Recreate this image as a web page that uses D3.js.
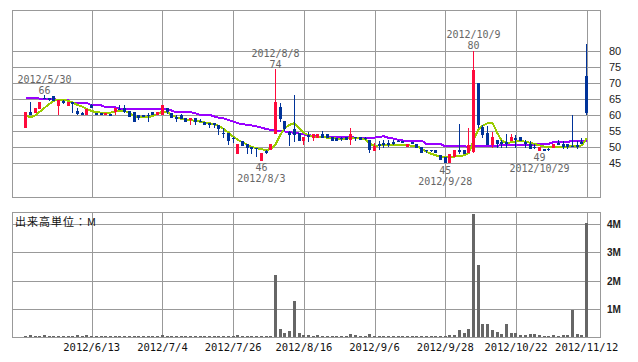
<!DOCTYPE html>
<html>
<head>
<meta charset="utf-8">
<script src="https://cdn.jsdelivr.net/npm/d3@7"></script>
<style>
  body { margin: 0; background: #fff; }
  svg { display: block; }
</style>
</head>
<body>
<div id="chart"></div>
<script>
// trading days shown on the chart
const dates = [
  "2012/5/24","2012/5/25","2012/5/28","2012/5/29","2012/5/30","2012/5/31",
  "2012/6/1","2012/6/4","2012/6/5","2012/6/6","2012/6/7","2012/6/8","2012/6/11","2012/6/12","2012/6/13",
  "2012/6/14","2012/6/15","2012/6/18","2012/6/19","2012/6/20","2012/6/21","2012/6/22","2012/6/25","2012/6/26","2012/6/27","2012/6/28","2012/6/29",
  "2012/7/2","2012/7/3","2012/7/4","2012/7/5","2012/7/6","2012/7/9","2012/7/10","2012/7/11","2012/7/12","2012/7/13",
  "2012/7/17","2012/7/18","2012/7/19","2012/7/20","2012/7/23","2012/7/24","2012/7/25","2012/7/26","2012/7/27","2012/7/30","2012/7/31",
  "2012/8/1","2012/8/2","2012/8/3","2012/8/6","2012/8/7","2012/8/8","2012/8/9","2012/8/10","2012/8/13","2012/8/14","2012/8/15","2012/8/16",
  "2012/8/17","2012/8/20","2012/8/21","2012/8/22","2012/8/23","2012/8/24","2012/8/27","2012/8/28","2012/8/29","2012/8/30","2012/8/31",
  "2012/9/3","2012/9/4","2012/9/5","2012/9/6","2012/9/7","2012/9/10","2012/9/11","2012/9/12","2012/9/13","2012/9/14",
  "2012/9/18","2012/9/19","2012/9/20","2012/9/21","2012/9/24","2012/9/25","2012/9/26","2012/9/27","2012/9/28",
  "2012/10/1","2012/10/2","2012/10/3","2012/10/4","2012/10/5","2012/10/9","2012/10/10","2012/10/11","2012/10/12",
  "2012/10/15","2012/10/16","2012/10/17","2012/10/18","2012/10/19","2012/10/22","2012/10/23","2012/10/24","2012/10/25","2012/10/26",
  "2012/10/29","2012/10/30","2012/10/31","2012/11/1","2012/11/2","2012/11/5","2012/11/6","2012/11/7","2012/11/8","2012/11/9","2012/11/12"
];

const open = [
  55.9,61.1,60.6,62,65.4,65.2, 66,62.9,64.5,63,64,61.2,60.6,60,63.3,
  60.8,60.8,60,60.3,61,62,62.3,61.3,61,60,60,60.2,
  61,60,60.1,62.2,60.8,59.4,60,59,58.5,59,
  58.3,58,57.5,57.5,57,54.5,54.4,53,48,52.1,51,
  50,49.9,45.8,48.8,49,54,62.4,58.2,54.8,55.8,54.3,52,
  53.8,52.8,52.8,54,54,53.2,53,53,53.2,52.4,53.2,
  53.2,53,52.2,48.8,51,51.2,51.2,51.5,52,51.9,
  50,51.5,51,50.2,49.2,49.2,49.2,47.6,47.1,
  45,47.1,49.2,49.2,48.1,48.6,70,56.3,54.4,
  50.8,52.2,51.5,51.5,51.8,52.8,53.2,51.5,50.9,50.2,
  48.9,49.6,49.5,49.9,51.2,50.9,50.9,50.5,50.6,51.5,72.2
];
const high = [
  61.1,64.1,62.2,64.1,66.4,65.5, 66,64.7,64.8,64,64.2,62.3,61,62,63.4,
  60.8,60.8,60.8,60.5,62.2,63.3,63.2,61.3,61,60.1,60.2,60.8,
  61,61,63.2,62.2,60.8,60,60.5,59,59.2,59,
  58.7,58,57.7,57.7,57,55.9,54.4,53.2,51,52.1,51,
  50.2,49.9,48.2,49.3,51,74.3,63.7,58.2,55,66.3,54.3,53.2,
  54.8,54,54,55,54.2,53.2,53,53.2,53.2,56,53.2,
  53.2,53.2,52.2,51.2,51.8,52.3,52.3,52.3,52.2,52,
  50.9,51.6,51,50.2,49.2,49.2,49.2,47.6,47.1,
  47.9,49.2,57.3,49.2,56.1,80,70,57,56.5,
  54.8,52.2,52.2,54.1,54,53.8,53.2,52.2,52.1,50.9,
  50.1,49.6,49.9,50.9,52.2,52,50.9,59.9,52,53,82.3
];
const low = [
  55.9,60.1,60.6,62,64.9,64.4, 64.4,59.9,63.5,63,60.6,60,60,60,62.1,
  60,60,60,60,60,61.5,60.8,59.4,57.9,58.5,59.5,58,
  60,60,60.1,60.5,59,58,58.7,58,57,57,
  57.8,57,55.9,55.9,53.8,52.8,50.7,51.2,48,50.4,48,
  48,47,45.8,48,49,54,58,55,50.3,51.7,52,50.8,
  51.7,52,52.8,53,53,52,52,52,52.4,50.8,52,
  52.4,52.3,48.1,48.8,49,49.8,50,50.8,51.8,51.5,
  50,51.2,49.7,48.1,48.1,48.5,48.1,46.1,45,
  45,47.1,47.9,47.9,48.1,48.3,56,53,50.7,
  49.8,49.8,49.9,49.9,51.8,49.8,52,49.9,49.6,49.6,
  48.8,48.8,48.8,49.9,50.6,49.6,49.6,50,49.6,51,60
];
const close = [
  61.1,60.1,62.2,64.1,65.1,64.7, 64.4,64.7,63.9,64,63.5,60.3,60.1,62,62.1,
  60,60,60.8,60.2,62.2,61.7,61,59.4,58,59.2,59.7,59.8,
  60,61,63.2,61,59,59,58.7,58,59,58,
  58,57,57.2,57.2,55.6,54.3,52.1,52.8,51,50.4,49.8,
  49.5,49.5,48.2,48.5,51,64.2,58.8,55.8,53.8,53.8,52,53.2,
  53.4,54,54,53,53,52,52,52.5,52.4,54,52.8,
  52.4,52.5,49.1,50.4,50.7,50.8,50.8,51,51.9,51.6,
  50.9,51.3,49.7,48.1,49,48.8,48.1,46.1,45.2,
  47.9,49.2,48.4,48,50.7,74.1,57,53.8,50.7,
  53.2,51.1,51.2,51,53.2,52.3,52,51.1,49.6,49.9,
  50.1,48.8,49.3,50.9,50.8,50,50,50.1,50.2,51.2,60.7
];
// 5 day and 25 day moving averages as drawn
const ma5 = [
  60.1,59.3,59.9,61.1,62.3,63.5, 64.5,64.8,64.8,64.5,63.9,63.2,62.7,61.9,61.3,
  60.9,60.8,60.8,60.8,61.1,61.3,61.3,60.6,59.8,59.3,59.3,59.3,
  59.8,60.4,61.1,60.9,60.1,59.3,58.8,58.5,58.5,58.2,
  58,57.7,57.5,57.2,56.7,55.7,54.6,53.3,52.3,51.6,50.7,
  50.1,49.7,49.4,49.1,49.5,50.9,53.8,56.1,57,57.5,55.9,54.4,
  53.8,53.4,53.2,53.2,53,52.8,52.7,52.7,52.7,52.8,52.8,
  52.7,52.4,51.1,50.4,50.6,50.6,50.6,50.6,50.6,50.6,
  50.6,50.5,50.3,49.6,48.6,48,47.5,47,47,
  47,47.1,47.2,47.5,48.2,52.2,55.5,56.8,57.5,
  57.7,54.5,52,51.4,51.5,51.8,52,51.7,51.4,51,
  50.6,50.2,50,50.2,50.1,50.1,50.2,50.4,50.2,50.6,52.8
];
const ma25 = [
  65.5,65.5,65.5,65.1,65.1,65.1, 65.1,64.6,64.6,64.6,63.8,63.8,63.8,63.8,63.1,
  63.1,63.1,62.4,62.4,62.4,62,62,62,62,62,62,62,
  62,62,62,62,61.4,60.9,60.9,60.9,60.9,60.6,
  60.1,60.1,60.1,59.6,59.2,59,58.5,58,57.5,57.2,57,
  56.8,56.5,56.1,55.7,55.4,55.2,55.1,54.9,54.7,54.5,54.3,54,
  53.8,53.5,53.4,53.2,53.2,53.2,53.1,53.1,53.1,53.1,53,
  53,53,53,53,53.3,53.4,52.9,52.7,52.3,52.1,
  52.1,52.1,52.1,52.1,51,51,51,51,50.3,
  50.3,50.3,50.3,50.3,50.1,50.5,50.5,50.5,50.5,
  50.5,50.5,50.6,50.6,50.6,50.6,50.6,50.6,50.6,50.6,
  51.1,51.1,51.1,51.6,51.6,51.6,51.6,52.1,52.1,52.1,52.1
];
// volume in millions of shares
const volume = [
  0.06,0.08,0.05,0.05,0.08,0.05, 0.05,0.05,0.05,0.05,0.05,0.08,0.05,0.08,0.05,
  0.05,0.05,0.05,0.05,0.05,0.05,0.05,0.05,0.05,0.05,0.05,0.05,
  0.05,0.05,0.08,0.05,0.05,0.05,0.05,0.05,0.05,0.05,
  0.05,0.05,0.05,0.05,0.05,0.05,0.05,0.05,0.08,0.05,0.05,
  0.05,0.05,0.05,0.05,0.05,2.2,0.29,0.15,0.22,1.28,0.15,0.08,
  0.08,0.05,0.08,0.05,0.05,0.05,0.05,0.05,0.05,0.13,0.08,
  0.05,0.05,0.13,0.05,0.05,0.05,0.05,0.05,0.05,0.05,
  0.05,0.05,0.05,0.05,0.05,0.05,0.05,0.05,0.05,
  0.09,0.09,0.26,0.15,0.29,4.36,2.55,0.47,0.47,
  0.26,0.19,0.12,0.47,0.15,0.15,0.09,0.09,0.12,0.12,
  0.09,0.05,0.05,0.08,0.05,0.09,0.09,0.97,0.12,0.08,4.03
];

const tickDates = ["2012/6/13","2012/7/4","2012/7/26","2012/8/16","2012/9/6","2012/9/28","2012/10/22","2012/11/12"];
const priceTicks = [45, 50, 55, 60, 65, 70, 75, 80];
const volTicks = [1, 2, 3, 4];
// highs and lows that carry a date label
const peaks = [
  {date: "2012/5/30", value: 66, kind: "high"},
  {date: "2012/8/8", value: 74, kind: "high"},
  {date: "2012/10/9", value: 80, kind: "high"},
  {date: "2012/8/3", value: 46, kind: "low"},
  {date: "2012/9/28", value: 45, kind: "low"},
  {date: "2012/10/29", value: 49, kind: "low"}
];

const W = 638, H = 362;
const left = 12.5, right = 600.5;
const pTop = 10.5, pBottom = 197.5;
const vTop = 212.5, vBottom = 337.5;
const grid = "#999";
const upColor = "#ff0a3c", downColor = "#003399";

const svg = d3.select("#chart").append("svg").attr("width", W).attr("height", H);

const x = d3.scalePoint().domain(dates).range([25.7, 586.7]);
const y = d3.scaleLinear().domain([45, 80]).range([163.3, 51]);
const yv = d3.scaleLinear().domain([0, 4]).range([337.3, 224.2]);

const bars = dates.map((d, i) => ({date: d, o: open[i], h: high[i], l: low[i], c: close[i], v: volume[i]}));
const px = v => Math.round(v) + 0.5;
const bodyX = d => Math.round(x(d.date) - 1.5);

// ---- frames and grid ----
function panel(top, bottom, ticks, scale) {
  const g = svg.append("g").attr("shape-rendering", "crispEdges");
  g.selectAll("line.h").data(ticks).enter().append("line")
    .attr("x1", left).attr("x2", right)
    .attr("y1", d => px(scale(d))).attr("y2", d => px(scale(d)))
    .attr("stroke", grid);
  g.selectAll("line.v").data(tickDates).enter().append("line")
    .attr("x1", d => px(x(d))).attr("x2", d => px(x(d)))
    .attr("y1", top).attr("y2", bottom)
    .attr("stroke", grid);
  g.append("rect")
    .attr("x", left).attr("y", top)
    .attr("width", right - left).attr("height", bottom - top)
    .attr("fill", "none").attr("stroke", grid);
}
panel(pTop, pBottom, priceTicks, y);
panel(vTop, vBottom, volTicks, yv);

// ---- right axes ----
svg.append("g").selectAll("text").data(priceTicks).enter().append("text")
  .attr("x", 609).attr("y", d => y(d) + 4)
  .text(d => d)
  .style("font-family", "Liberation Sans, Arial")
  .style("font-size", "11px")
  .style("fill", "#222");

svg.append("g").selectAll("text").data(volTicks).enter().append("text")
  .attr("x", 607).attr("y", d => yv(d) + 4)
  .text(d => d + "M")
  .style("font-family", "Liberation Sans, Arial")
  .style("font-size", "10px")
  .style("font-weight", "bold")
  .style("fill", "#222");

// ---- date axis ----
svg.append("g").selectAll("text").data(tickDates).enter().append("text")
  .attr("x", d => x(d)).attr("y", 351)
  .attr("text-anchor", "middle")
  .text(d => d)
  .style("font-family", "DejaVu Sans Mono, monospace")
  .style("font-size", "10.5px")
  .style("fill", "#111");

svg.append("text")
  .attr("x", 15).attr("y", 226)
  .text("出来高単位：M")
  .style("font-family", "Noto Sans CJK JP")
  .style("font-size", "11px")
  .style("letter-spacing", "1px")
  .style("fill", "#111");

// ---- volume bars ----
svg.append("g").attr("shape-rendering", "crispEdges")
  .selectAll("rect").data(bars).enter().append("rect")
  .attr("x", bodyX)
  .attr("width", 3)
  .attr("y", d => Math.round(yv(d.v)))
  .attr("height", d => Math.max(1, Math.round(yv(0)) - Math.round(yv(d.v))))
  .attr("fill", "#666");

// ---- moving averages ----
const maLine = vals => d3.line().x((d, i) => x(dates[i])).y(d => y(d))(vals);
svg.append("path").attr("d", maLine(ma25))
  .attr("fill", "none").attr("stroke", "#9900ff").attr("stroke-width", 2)
  .attr("shape-rendering", "crispEdges");
svg.append("path").attr("d", maLine(ma5))
  .attr("fill", "none").attr("stroke", "#99cc00").attr("stroke-width", 2)
  .attr("shape-rendering", "crispEdges");

// ---- candles ----
const candle = svg.append("g").attr("shape-rendering", "crispEdges")
  .selectAll("g").data(bars).enter().append("g");
candle.append("line")
  .attr("x1", d => bodyX(d) + 1.5).attr("x2", d => bodyX(d) + 1.5)
  .attr("y1", d => y(d.h)).attr("y2", d => y(d.l))
  .attr("stroke", d => d.c >= d.o ? upColor : downColor);
candle.append("rect")
  .attr("x", bodyX)
  .attr("width", 3)
  .attr("y", d => y(Math.max(d.o, d.c)))
  .attr("height", d => Math.max(1.5, Math.abs(y(d.o) - y(d.c))))
  .attr("fill", d => d.c >= d.o ? upColor : downColor);

// ---- peak labels ----
const lab = svg.append("g").selectAll("g").data(peaks).enter().append("g");
lab.append("text")
  .attr("x", d => x(d.date))
  .attr("y", d => d.kind == "high" ? y(d.value) - 2 : y(d.value) + 11)
  .text(d => d.value);
lab.append("text")
  .attr("x", d => x(d.date))
  .attr("y", d => d.kind == "high" ? y(d.value) - 13 : y(d.value) + 22)
  .text(d => d.date);
lab.selectAll("text")
  .attr("text-anchor", "middle")
  .style("font-family", "DejaVu Sans Mono, monospace")
  .style("font-size", "10px")
  .style("fill", "#666");
</script>
</body>
</html>
